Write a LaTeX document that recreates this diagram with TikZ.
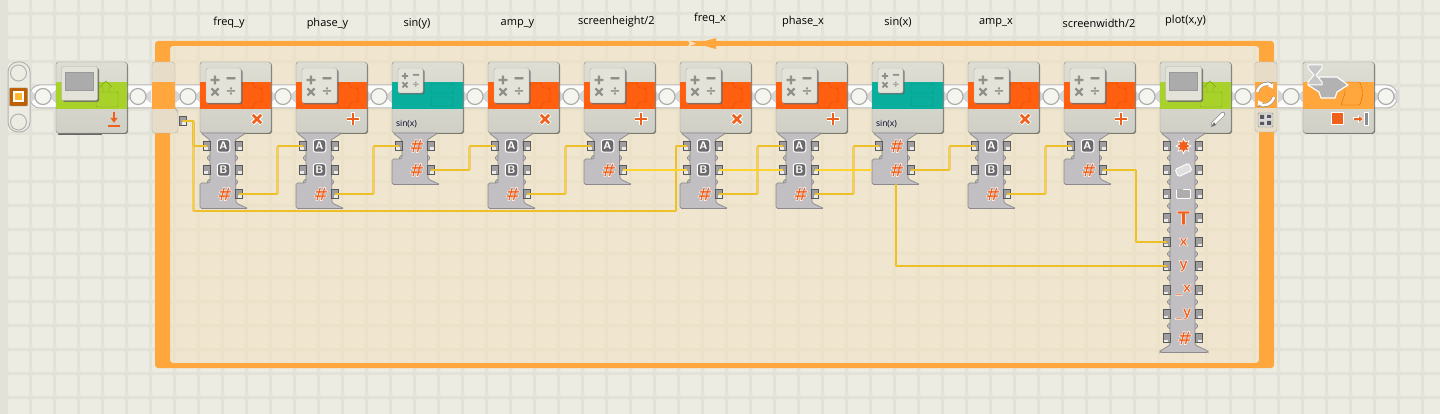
\documentclass[tikz,border=0pt]{standalone}
\usepackage{fontspec}
\setmainfont{Open Sans}
\newfontfamily\keyfont{DejaVu Sans}
\usetikzlibrary{shapes,shapes.geometric,arrows.meta,shadows}
\definecolor{gridline}{HTML}{E2E2D8}
\definecolor{tilecol}{HTML}{ECECE2}
\definecolor{beige}{HTML}{F3E2C2}
\definecolor{tabcol}{HTML}{E6DCC8}
\definecolor{loopcol}{HTML}{FFA63C}
\definecolor{mathcol}{HTML}{FF5F0F}
\definecolor{mathedge}{HTML}{D84C08}
\definecolor{sincol}{HTML}{0AAE9C}
\definecolor{sinedge}{HTML}{078F80}
\definecolor{dispcol}{HTML}{A8D22A}
\definecolor{dispedge}{HTML}{7FA81C}
\definecolor{hubcol}{HTML}{C2BFC3}
\definecolor{hubedge}{HTML}{8B898D}
\definecolor{keygray}{HTML}{8E8E8A}
\definecolor{glyphcol}{HTML}{F0601C}
\definecolor{wirecol}{HTML}{FFD22E}
\definecolor{wireedge}{HTML}{D0A01C}
% orange letter with a white rim
\newcommand{\rimmed}[1]{\special{pdf:code q 2 Tr 1 1 1 RG 0.45 w}#1\special{pdf:code Q}}
% heavier grey key sign
\newcommand{\heavy}[1]{\special{pdf:code q 2 Tr 0.557 0.557 0.541 RG 0.7 w}#1\special{pdf:code Q}}
\tikzset{
  tilebox/.style={ fill=tilecol, rounded corners=2 }
}
\tikzset{
  blockbox/.style={ draw=black!45, rounded corners=2.5, minimum width=71, minimum height=71, inner sep=0,
    top color=black!6!tilecol, bottom color=black!12!tilecol,
    drop shadow={shadow xshift=1pt, shadow yshift=-1pt, fill=black!70, opacity=.7} }
}
\tikzset{
  bandbox/.style={ minimum width=71, minimum height=27, inner sep=0 }
}
\tikzset{
  keybox/.style={ draw=black!30, fill=black!4!tilecol, rounded corners=2, inner sep=0, minimum size=#1,
    drop shadow={shadow xshift=1.5pt, shadow yshift=-1.5pt, fill=black!60, opacity=.8} }
}
\tikzset{
  keysym/.style={ text=keygray, inner sep=0, font=\keyfont\bfseries\fontsize{#1}{#1}\selectfont }
}
\tikzset{
  hubbody/.style={ draw=hubedge, fill=hubcol, line width=.7, rounded corners=1.5 }
}
\tikzset{
  plugL/.style={ draw=black!65, fill=black!38, line width=.9, minimum width=7, minimum height=9, inner sep=0,
    path picture={\fill[black!8] ([xshift=-4,yshift=-1.5]path picture bounding box.center) rectangle +(5,3);} }
}
\tikzset{
  plugR/.style={ draw=black!65, fill=black!38, line width=.9, minimum width=7, minimum height=9, inner sep=0,
    path picture={\fill[black!8] ([xshift=-1,yshift=-1.5]path picture bounding box.center) rectangle +(5,3);} }
}
\tikzset{
  letterbox/.style={ draw=white, fill=black!45!hubcol, line width=1, rounded corners=2.5, minimum size=12.5, inner sep=0,
    text=white, font=\sffamily\bfseries\fontsize{11}{11}\selectfont }
}
\tikzset{
  hashglyph/.style={ inner sep=0, text=glyphcol, font=\keyfont\bfseries\itshape\fontsize{18.5}{18.5}\selectfont }
}
\tikzset{
  slabglyph/.style={ inner sep=0, text=glyphcol, font=\keyfont\bfseries\fontsize{#1}{#1}\selectfont }
}
\tikzset{
  starglyph/.style={ star, star points=8, star point ratio=1.7, minimum size=15, inner sep=0, fill=glyphcol, draw=white, line width=.7 }
}
\tikzset{
  eraserglyph/.style={ rotate=25, rounded corners=1.5, minimum width=15, minimum height=8, inner sep=0, fill=black!12, draw=white, line width=.9 }
}
\tikzset{
  folderglyph/.style={ rounded corners=1, minimum width=14, minimum height=9, inner sep=0, fill=black!32, draw=white, line width=.9 }
}
\tikzset{
  wire/.style={ draw=wirecol, line width=1.1, rounded corners=1,
    preaction={draw=wireedge, line width=1.9} }
}
\tikzset{
  syncarrow/.style={ white, line width=2.6, -{Latex[length=5,width=7]},
    preaction={draw=black!45, line width=3.6, -{Latex[length=6,width=8.5]}} }
}
\tikzset{
  looplabel/.style={ inner sep=0, text=black, font=\fontsize{11}{13}\selectfont }
}
\tikzset{
  smalllabel/.style={ inner sep=0, text=black!85!blue, font=\fontsize{8.5}{9}\selectfont }
}
% name, left x, band colour
\newcommand{\blockbase}[3]{
  \node[blockbox] (#1) at (#2+35.5,97.5) {};
  \node[bandbox, fill=#3] (#1-band) at (#2+35.5,95.5) {};
}
% name, left x, rotation of the sign
\newcommand{\mathblock}[3]{
  \blockbase{#1}{#2}{mathcol}
  \draw[draw=mathedge, fill=mathcol, rounded corners=2] (#2+42,83) -- (#2+54,83) -- (#2+54,88) -- (#2+62,88)
    -- (#2+62,102) -- (#2+54,102) -- (#2+54,108) -- (#2+42,108) -- cycle;
  \node[keybox=35] (#1-key) at (#2+23.5,85.5) {};
  \node[keysym=13] (#1-plus) at (#2+15,80) {\heavy{+}};
  \node[keysym=13] (#1-minus) at (#2+31,80) {\heavy{−}};
  \node[keysym=13] (#1-times) at (#2+15,92) {\heavy{×}};
  \node[keysym=13] (#1-div) at (#2+31,92) {÷};
  \begin{scope}[shift={(#2+57,119)}, rotate=#3]
    \draw[white, line width=4.6] (-6.5,0) -- (6.5,0) (0,-6.5) -- (0,6.5);
    \draw[glyphcol, line width=2.8] (-6,0) -- (6,0) (0,-6) -- (0,6);
  \end{scope}
}
% name, left x
\newcommand{\sinblock}[2]{
  \blockbase{#1}{#2}{sincol}
  \draw[draw=sinedge, fill=sincol, rounded corners=1] (#2+39,84) rectangle (#2+61,93);
  \draw[draw=sinedge, fill=sincol, rounded corners=1] (#2+39,97) rectangle (#2+61,106);
  \node[keybox=25] (#1-key) at (#2+18.5,80.5) {};
  \node[keysym=9] (#1-plus) at (#2+13,76) {\heavy{+}};
  \node[keysym=9] (#1-minus) at (#2+24,76) {\heavy{−}};
  \node[keysym=9] (#1-times) at (#2+13,85) {\heavy{×}};
  \node[keysym=9] (#1-div) at (#2+24,85) {÷};
  \node[smalllabel] (#1-fn) at (#2+14.5,124) {sin(x)};
}
% name, left x
\newcommand{\displayblock}[2]{
  \blockbase{#1}{#2}{dispcol}
  \draw[draw=dispedge, rounded corners=1] (#2+40,92) rectangle (#2+62,107);
  \draw[draw=dispedge, line join=round] (#2+47,92) -- (#2+47,87) -- (#2+44,87) -- (#2+50,81) -- (#2+56,87) -- (#2+53,87) -- (#2+53,92);
  \node[keybox=34, minimum width=36] (#1-key) at (#2+23.5,83.5) {};
  \node[draw=black!40, fill=black!33, minimum width=28, minimum height=18, inner sep=0] (#1-screen) at (#2+23,81) {};
}
% left x, y of last row
\newcommand{\hubshape}[2]{
  \begin{scope}[xshift=#1]
    \foreach \yy in {158,182,...,#2} {
      \draw[hubbody] (10,\yy) circle (2.6);
      \draw[hubbody] (35,\yy) circle (2.6);
    }
    \draw[hubbody] (1,133) -- (10,140) -- (10,#2-11) -- (0,#2-11) -- (0,#2+14.5) -- (48,#2+14.5)
      -- (36,#2+9) -- (35,140) -- (46,133) -- cycle;
  \end{scope}
}
% name, left x, tag, y, glyph style, text
\newcommand{\rowfull}[6]{
  \node[plugL] (#1-#3-in) at (#2+7,#4) {};
  \rowout{#1}{#2}{#3}{#4}{#5}{#6}
}
\newcommand{\rowout}[6]{
  \node[plugR] (#1-#3-out) at (#2+39,#4) {};
  \node[#5] (#1-#3) at (#2+23.5,#4) {#6};
}
\begin{document}
\begin{tikzpicture}[y=-1pt, x=1pt]
  \useasboundingbox (0,0) rectangle (1440,414);
  \fill[gridline] (0,0) rectangle (1440,414);
  \foreach \i in {0,...,59} {
    \foreach \j in {-1,...,16} {
      \fill[tilebox] (8+24*\i,15+24*\j) rectangle +(21,21);
    }
  }
  % loop frame
  \fill[beige, opacity=.62, rounded corners=2] (170,46) rectangle (1259,363);
  \fill[loopcol, even odd rule, rounded corners=3] (155,41) rectangle (1274,368) (170,46) rectangle (1259,363);
  \fill[loopcol] (716,38) -- (716,49) -- (696,43.5) -- cycle;
  \fill[white!70!loopcol] (696,43.5) -- (687,40) -- (690,43.5) -- (687,47) -- cycle;
  % beam with its joints
  \draw[draw=black!28, fill=white!85!tilecol, line width=1, rounded corners=10] (30,85) rectangle (1397,108);
  \foreach \cx in {43,138,188,283,379,475,571,667,763,859,955,1051,1147,1243,1291,1386} {
    \fill[black!16] (\cx-13,90) -- (\cx-8,94) -- (\cx-8,99) -- (\cx-13,103) -- cycle;
    \fill[black!16] (\cx+13,90) -- (\cx+8,94) -- (\cx+8,99) -- (\cx+13,103) -- cycle;
    \draw[draw=black!32, fill=tilecol!50!white, line width=1.2] (\cx,96.5) circle (8);
  }
  % start piece
  \draw[draw=black!30, fill=tilecol, line width=1, rounded corners=10] (8,62) rectangle (30,132);
  \draw[draw=black!30, fill=tilecol, line width=1] (18.5,73) circle (8);
  \draw[draw=black!30, fill=tilecol, line width=1] (18.5,122) circle (8);
  \node[draw=black!45, fill=orange!75!black, minimum size=18, inner sep=0, rounded corners=1] (start) at (18.5,97) {};
  \node[draw=white, fill=loopcol!80!yellow, line width=2, minimum size=9, inner sep=0] (startdot) at (18.5,97) {};
  % first display block
  \draw[black!60, line width=1.2] (58,134.5) -- (102,134.5);
  \displayblock{init}{56}
  \draw[glyphcol, line width=1.6, -{Latex[length=5,width=8]}] (114,112) -- (114,123);
  \draw[glyphcol, line width=1.6] (108,126) -- (120,126);
  % loop tabs
  \draw[draw=black!30, fill=tabcol, rounded corners=3] (152,62) -- (175,62) -- (175,109) -- (178,111) -- (178,133) -- (152,133) -- cycle;
  \fill[loopcol] (152,82) rectangle (175,109);
  \node[plugR] (lp-count) at (182.5,121) {};
  \draw[draw=black!30, fill=tabcol, rounded corners=3] (1255,62) rectangle (1277,132);
  \fill[loopcol] (1255,82) rectangle (1277,108);
  \draw[syncarrow] (1257,92) .. controls (1259,84) and (1269,82) .. (1273,89);
  \draw[syncarrow] (1274,97) .. controls (1272,105) and (1262,107) .. (1258,100);
  \node[draw=black!50, fill=black!15, minimum width=15, minimum height=14, inner sep=0, rounded corners=1] (lp-cond) at (1265.5,120) {};
  \fill[black!65] (1260,115) rectangle (1264,119) (1267,121) rectangle (1271,125) (1260,122) rectangle (1264,125) (1267,115) rectangle (1271,118);
  % math and sine blocks
  \foreach \nm/\xx/\sgn in {fy/200/45, py/296/0, ay/488/45, hh/584/0, fx/680/45, px/776/0, ax/968/45, wh/1064/0} {
    \mathblock{\nm}{\xx}{\sgn}
  }
  \foreach \nm/\xx in {sy/392, sx/872} {
    \sinblock{\nm}{\xx}
  }
  \displayblock{plot}{1160}
  \draw[black!45, line width=4.4, line cap=round] (1213,124) -- (1223,114);
  \draw[white, line width=3.2, line cap=round] (1213,124) -- (1223,114);
  \fill[black!55] (1211,127) -- (1214,122) -- (1216,125) -- cycle;
  % wait block at the end
  \blockbase{wait}{1303}{loopcol}
  \draw[draw=orange!85!black, rounded corners=1] (1345,82) -- (1360,82) -- (1363,93) -- (1360,105) -- (1341,105) -- (1345,93) -- cycle;
  \draw[draw=white, fill=black!30, line width=1.2, line join=round] (1308,85) -- (1320,77) -- (1337,77) -- (1348,85) -- (1337,92) -- (1335,98) -- (1321,98) -- (1319,92) -- cycle;
  \draw[draw=white, fill=black!22, line width=1, line join=round] (1308,65) -- (1322,65) -- (1322,68) -- (1316,75) -- (1322,82) -- (1322,85) -- (1308,85) -- (1308,82) -- (1314,75) -- (1308,68) -- cycle;
  \node[draw=white, fill=glyphcol, minimum size=12, inner sep=0, line width=1] (wait-stop) at (1337,119) {};
  \draw[white, line width=3, -{Latex[length=6,width=9]}] (1353,119) -- (1364,119);
  \draw[glyphcol, line width=1.6, -{Latex[length=4,width=6]}] (1354,119) -- (1363,119);
  \node[draw=white, fill=black!45, minimum width=4, minimum height=13, inner sep=0] (wait-bar) at (1366,119) {};
  % data hubs
  \foreach \nm/\xx in {fy/200, py/296, ay/488, fx/680, px/776, ax/968} {
    \hubshape{\xx}{194}
    \rowfull{\nm}{\xx}{A}{146}{letterbox}{A}
    \rowfull{\nm}{\xx}{B}{170}{letterbox}{B}
    \rowout{\nm}{\xx}{C}{194}{hashglyph}{\rimmed{\#}}
  }
  \foreach \nm/\xx in {hh/584, wh/1064} {
    \hubshape{\xx}{170}
    \rowfull{\nm}{\xx}{A}{146}{letterbox}{A}
    \rowout{\nm}{\xx}{C}{170}{hashglyph}{\rimmed{\#}}
  }
  \foreach \nm/\xx in {sy/392, sx/872} {
    \hubshape{\xx}{170}
    \rowfull{\nm}{\xx}{A}{146}{hashglyph}{\rimmed{\#}}
    \rowout{\nm}{\xx}{C}{170}{hashglyph}{\rimmed{\#}}
  }
  % plot hub
  \begin{scope}[xshift=1160]
    \foreach \yy in {158,182,...,326} {
      \draw[hubbody] (10,\yy) circle (2.6);
      \draw[hubbody] (35,\yy) circle (2.6);
    }
    \draw[hubbody] (1,133) -- (10,140) -- (10,345) -- (0,351) -- (0,352.5) -- (48,352.5) -- (48,351) -- (35,345) -- (35,140) -- (46,133) -- cycle;
  \end{scope}
  \rowfull{plot}{1160}{act}{146}{starglyph}{}
  \rowfull{plot}{1160}{ers}{170}{eraserglyph}{}
  \rowfull{plot}{1160}{file}{194}{folderglyph}{}
  \fill[black!32] (1177,189) rectangle (1183,191);
  \rowfull{plot}{1160}{txt}{218}{slabglyph=19}{\rimmed{T}}
  \rowfull{plot}{1160}{x}{242}{slabglyph=14}{\rimmed{x}}
  \rowfull{plot}{1160}{y}{266}{slabglyph=14}{\rimmed{y}}
  \rowfull{plot}{1160}{xe}{290}{slabglyph=14}{\rimmed{\_x}}
  \rowfull{plot}{1160}{ye}{314}{slabglyph=14}{\rimmed{\_y}}
  \rowfull{plot}{1160}{num}{338}{hashglyph}{\rimmed{\#}}
  % wires
  \coordinate (sx-west) at (872,170);
  \coordinate (sx-foot) at (896,184);
  \draw[wire] (lp-count.center) -- +(11,0) |- (fy-A-in.center);
  \draw[wire] (lp-count.center) -- +(11,0) -- +(11,90) -- +(493.5,90) |- (fx-A-in.center);
  \foreach \from/\to in {fy-C/py-A, py-C/sy-A, sy-C/ay-A, ay-C/hh-A, fx-C/px-A, px-C/sx-A, sx-C/ax-A, ax-C/wh-A} {
    \draw[wire] (\from-out.center) -- +(38.5,0) |- (\to-in.center);
  }
  \draw[wire] (hh-C-out.center) -- (fx-B-in.center);
  \draw[wire] (fx-B-out.center) -- (px-B-in.center);
  \draw[wire] (px-B-out.center) -- (sx-west);
  \draw[wire] (wh-C-out.center) -- +(33,0) |- (plot-x-in.center);
  \draw[wire] (sx-foot) |- (plot-y-in.center);
  % labels on top
  \node[looplabel] (l-fy) at (229,23) {freq\_y};
  \node[looplabel] (l-py) at (327.5,24) {phase\_y};
  \node[looplabel] (l-sy) at (417,24) {sin(y)};
  \node[looplabel] (l-ay) at (517.5,24) {amp\_y};
  \node[looplabel] (l-hh) at (616.5,22) {screenheight/2};
  \node[looplabel] (l-fx) at (710,19) {freq\_x};
  \node[looplabel] (l-px) at (803,22) {phase\_x};
  \node[looplabel] (l-sx) at (898,22) {sin(x)};
  \node[looplabel] (l-ax) at (996,22.5) {amp\_x};
  \node[looplabel] (l-wh) at (1099,23) {screenwidth/2};
  \node[looplabel] (l-pl) at (1185.5,21) {plot(x,y)};
\end{tikzpicture}
\end{document}
